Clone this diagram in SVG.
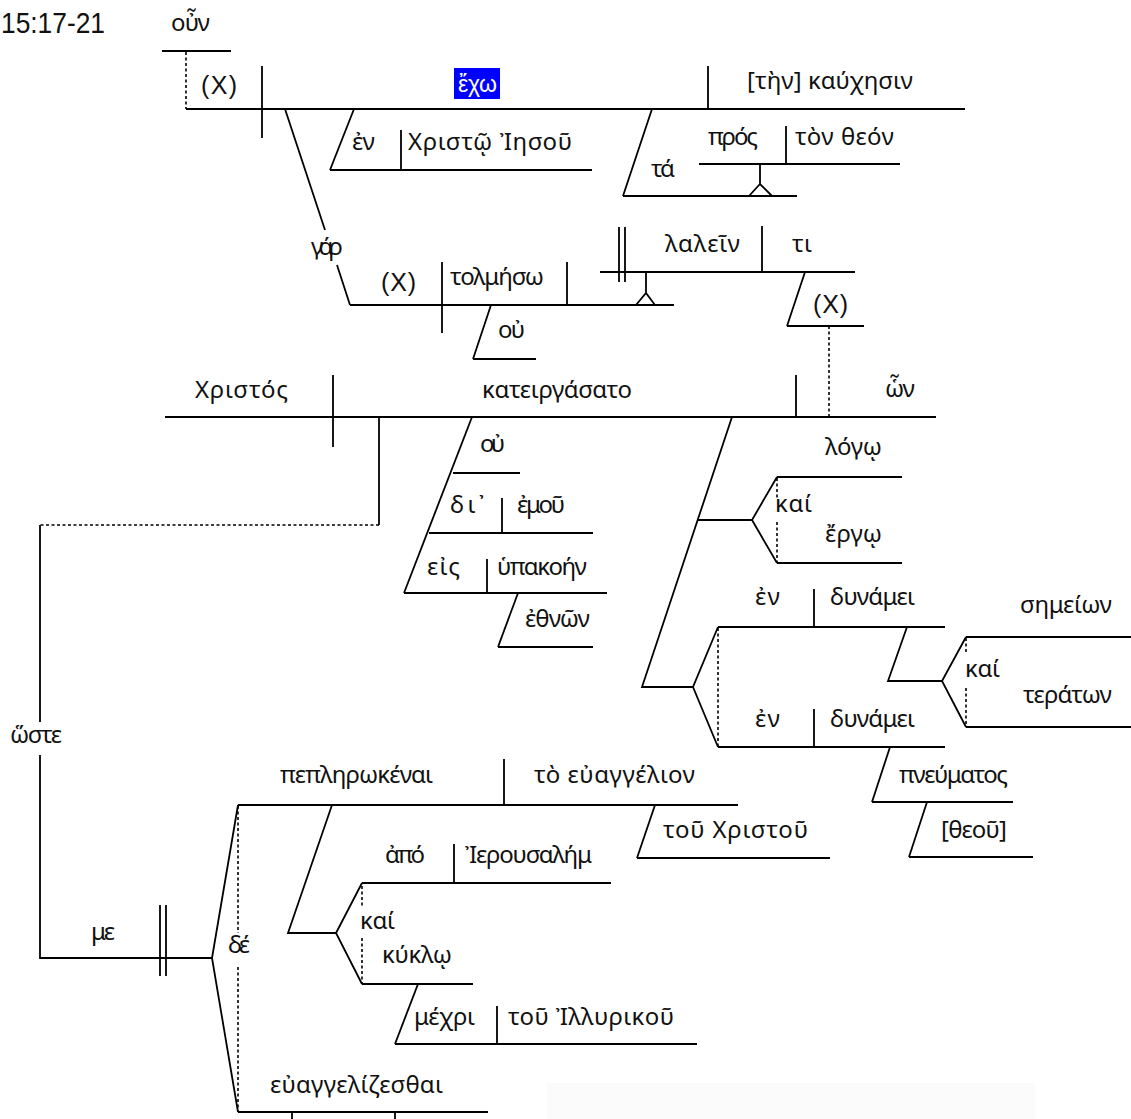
<svg xmlns="http://www.w3.org/2000/svg" width="1131" height="1119" viewBox="0 0 1131 1119">
<style>
.ln{stroke:#000;stroke-width:1.8;fill:none}
.dt{stroke:#000;stroke-width:1.6;fill:none;stroke-dasharray:3,2.5}
.g{font-family:"Noto Sans","DejaVu Sans",sans-serif;font-size:24px;fill:#111}
.x{font-family:"Liberation Sans",Arial,sans-serif;font-size:25px;fill:#111}
</style>
<rect x="0" y="0" width="1131" height="1119" fill="#fff"/>
<rect x="547" y="1083" width="488" height="36" fill="#fbfbfb"/>
<text x="1" y="33" font-family="Liberation Sans, Arial, sans-serif" font-size="30" fill="#111" textLength="104" lengthAdjust="spacingAndGlyphs">15:17-21</text>

<g id="connectors">
<path class="ln" d="M354,109 L330,170"/>
<path class="ln" d="M652,109 L623,196"/>
<path class="ln" d="M285,109 L325,230 M337,265 L350,305"/>
<path class="ln" d="M491,305 L473,359"/>
<path class="ln" d="M805,272 L787,326"/>
<path class="dt" d="M829,326 V417"/>
<path class="dt" d="M186,52 V109"/>
<path class="ln" d="M472,417 L404,593"/>
<path class="ln" d="M518,593 L498,647"/>
<path class="ln" d="M732,417 L642,687 H693"/>
<path class="ln" d="M698,520 H752"/>
<path class="ln" d="M777,477 L752,520 L777,563"/>
<path class="dt" d="M777,478 V498 M777,522 V562"/>
<path class="ln" d="M718,627 L693,687 L718,747"/>
<path class="dt" d="M718,628 V746"/>
<path class="ln" d="M907,627 L888,681 H942"/>
<path class="ln" d="M966,637 L942,681 L966,727"/>
<path class="dt" d="M966,638 V653 M966,688 V726"/>
<path class="ln" d="M890,747 L872,802"/>
<path class="ln" d="M927,802 L909,857"/>
<path class="ln" d="M379,417 V525"/>
<path class="dt" d="M379,525 H40"/>
<path class="ln" d="M40,525 V722 M40,755 V958 H212"/>
<path class="ln" d="M238,805 L212,958 L238,1112"/>
<path class="dt" d="M238,806 V933 M238,967 V1111"/>
<path class="ln" d="M655,805 L637,858"/>
<path class="ln" d="M332,805 L288,933 H336"/>
<path class="ln" d="M362,883 L336,933 L362,984"/>
<path class="dt" d="M362,886 V908 M362,938 V983"/>
<path class="ln" d="M418,984 L395,1044"/>
</g>

<g id="oun">
<path class="ln" d="M162,51 H231"/>
<text class="g" x="171" y="31" textLength="39">οὖν</text>
</g>

<g id="clause-echo">
<path class="ln" d="M186,109 H965 M262,66 V138 M708,66 V109"/>
<text class="x" x="201" y="94" textLength="36">(X)</text>
<rect x="454" y="68" width="46" height="31" fill="#0000ff"/>
<text x="458" y="92" font-family="Liberation Sans, Arial, sans-serif" font-size="23" fill="#fff" textLength="39">ἔχω</text>
<text class="g" x="747" y="89" textLength="166">[τὴν] καύχησιν</text>
</g>

<g id="en-christo">
<path class="ln" d="M330,170 H592 M401,130 V170"/>
<text class="g" x="352" y="150" textLength="23">ἐν</text>
<text class="g" x="408" y="150" textLength="164">Χριστῷ Ἰησοῦ</text>
</g>

<g id="ta-pros">
<path class="ln" d="M623,196 H797 M699,164 H900 M786,126 V164 M760,164 V184 M749,196 L760,184 L772,196"/>
<text class="g" x="651" y="177" textLength="24">τά</text>
<text class="g" x="708" y="145" textLength="50">πρός</text>
<text class="g" x="795" y="145" textLength="99">τὸν θεόν</text>
</g>

<g id="gar">
<text class="g" x="311" y="255" textLength="32">γάρ</text>
</g>

<g id="clause-tolmeso">
<path class="ln" d="M350,305 H674 M442,262 V333 M567,262 V305 M636,305 L646,293 L655,305 M646,293 V272"/>
<text class="x" x="381" y="291" textLength="35">(X)</text>
<text class="g" x="450" y="285" textLength="94">τολμήσω</text>
</g>

<g id="ou-1">
<path class="ln" d="M473,359 H536"/>
<text class="g" x="498" y="338" textLength="27">οὐ</text>
</g>

<g id="lalein">
<path class="ln" d="M600,272 H855 M619,227 V282 M625,227 V282 M762,226 V272"/>
<text class="g" x="665" y="252" textLength="75">λαλεῖν</text>
<text class="g" x="792" y="252" textLength="20">τι</text>
</g>

<g id="x-rel">
<path class="ln" d="M787,326 H864"/>
<text class="x" x="813" y="313" textLength="35">(X)</text>
</g>

<g id="clause-kateirgasato">
<path class="ln" d="M165,417 H936 M333,375 V447 M796,375 V417"/>
<text class="g" x="195" y="398" textLength="93">Χριστός</text>
<text class="g" x="482" y="398" textLength="150">κατειργάσατο</text>
<text class="g" x="885" y="397" textLength="30">ὧν</text>
</g>

<g id="ou-2">
<path class="ln" d="M453,473 H520"/>
<text class="g" x="480" y="452" textLength="25">οὐ</text>
</g>

<g id="di-emou">
<path class="ln" d="M429,533 H593 M502,498 V533"/>
<text class="g" x="450" y="513" textLength="35">δι᾽</text>
<text class="g" x="517" y="513" textLength="48">ἐμοῦ</text>
</g>

<g id="eis-hypakoen">
<path class="ln" d="M404,593 H607 M487,559 V593"/>
<text class="g" x="427" y="575" textLength="33">εἰς</text>
<text class="g" x="497" y="575" textLength="90">ὑπακοήν</text>
</g>

<g id="ethnon">
<path class="ln" d="M498,647 H593"/>
<text class="g" x="525" y="627" textLength="65">ἐθνῶν</text>
</g>

<g id="logo-ergo">
<path class="ln" d="M777,477 H902 M777,563 H902"/>
<text class="g" x="825" y="455" textLength="57">λόγῳ</text>
<text class="g" x="775" y="512" textLength="37">καί</text>
<text class="g" x="825" y="542" textLength="57">ἔργῳ</text>
</g>

<g id="en-dynamei-1">
<path class="ln" d="M718,627 H945 M814,589 V627"/>
<text class="g" x="755" y="605" textLength="25">ἐν</text>
<text class="g" x="830" y="605" textLength="85">δυνάμει</text>
</g>

<g id="semeion-teraton">
<path class="ln" d="M966,637 H1131 M966,727 H1131"/>
<text class="g" x="1020" y="613" textLength="92">σημείων</text>
<text class="g" x="965" y="677" textLength="35">καί</text>
<text class="g" x="1023" y="703" textLength="89">τεράτων</text>
</g>

<g id="en-dynamei-2">
<path class="ln" d="M718,747 H945 M814,709 V747"/>
<text class="g" x="755" y="727" textLength="25">ἐν</text>
<text class="g" x="830" y="727" textLength="85">δυνάμει</text>
</g>

<g id="pneumatos">
<path class="ln" d="M872,802 H1013"/>
<text class="g" x="899" y="783" textLength="109">πνεύματος</text>
</g>

<g id="theou">
<path class="ln" d="M909,857 H1033"/>
<text class="g" x="941" y="838" textLength="66">[θεοῦ]</text>
</g>

<g id="hoste">
<text class="g" x="10" y="743" textLength="52">ὥστε</text>
</g>

<g id="me">
<path class="ln" d="M160,905 V976 M166,905 V976"/>
<text class="g" x="91" y="940" textLength="24">με</text>
</g>

<g id="de">
<text class="g" x="228" y="953" textLength="22">δέ</text>
</g>

<g id="pepleirokenai">
<path class="ln" d="M238,805 H738 M504,759 V805"/>
<text class="g" x="280" y="783" textLength="153">πεπληρωκέναι</text>
<text class="g" x="534" y="783" textLength="161">τὸ εὐαγγέλιον</text>
</g>

<g id="tou-christou">
<path class="ln" d="M637,858 H830"/>
<text class="g" x="663" y="838" textLength="145">τοῦ Χριστοῦ</text>
</g>

<g id="apo-ierousalem">
<path class="ln" d="M362,883 H611 M454,844 V883"/>
<text class="g" x="385" y="863" textLength="40">ἀπό</text>
<text class="g" x="465" y="863" textLength="127">Ἰερουσαλήμ</text>
</g>

<g id="kyklo">
<path class="ln" d="M362,984 H473"/>
<text class="g" x="360" y="929" textLength="35">καί</text>
<text class="g" x="382" y="963" textLength="70">κύκλῳ</text>
</g>

<g id="mechri">
<path class="ln" d="M395,1044 H697 M497,1006 V1044"/>
<text class="g" x="414" y="1025" textLength="61">μέχρι</text>
<text class="g" x="508" y="1025" textLength="166">τοῦ Ἰλλυρικοῦ</text>
</g>

<g id="euangelizesthai">
<path class="ln" d="M238,1112 H488 M292,1112 V1119 M395,1112 V1119"/>
<text class="g" x="270" y="1093" textLength="173">εὐαγγελίζεσθαι</text>
</g>
</svg>
